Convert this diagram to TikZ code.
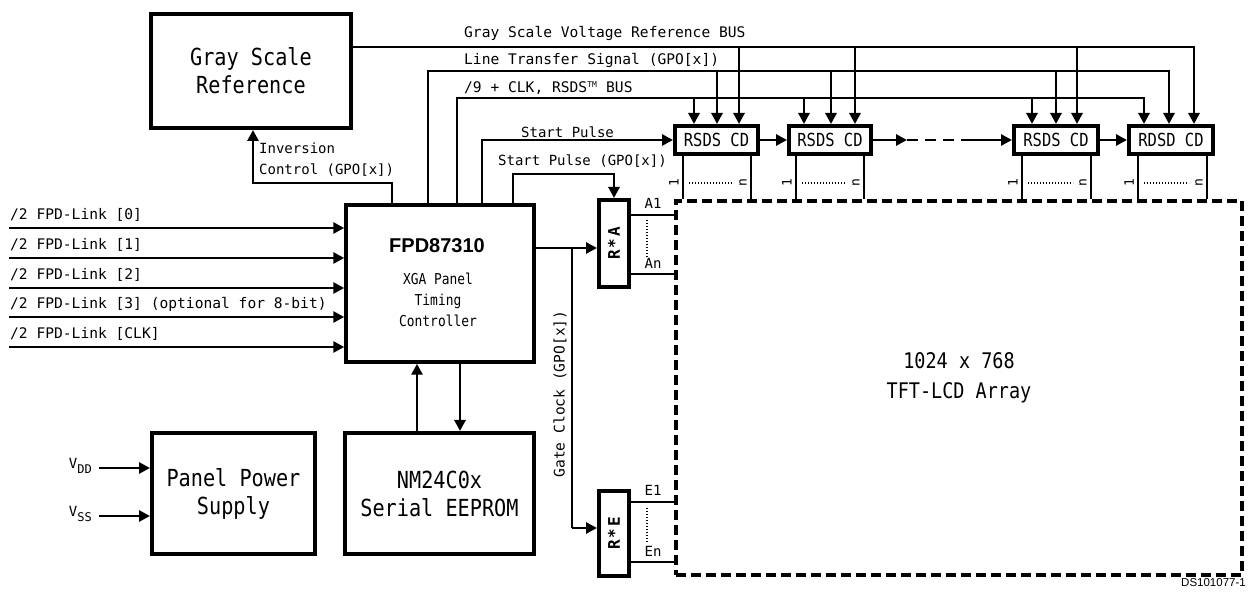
\documentclass[tikz,border=0pt]{standalone}
\usepackage{fontspec}
\setmainfont{DejaVu Sans Mono}
\newfontfamily\tall[FakeStretch=0.86]{DejaVu Sans Mono}
\newfontfamily\hel{Liberation Sans}
\usetikzlibrary{arrows.meta,calc}
\begin{document}
\begin{tikzpicture}[x=1pt,y=-1pt,
  tipA/.style={-{Triangle[length=11pt,width=11pt]}},
  bus/.style={line width=2.9pt},
  arr/.style={bus,tipA},
  thinl/.style={line width=1.4pt},
  dotl/.style={line width=1.2pt,dash pattern=on 1.4pt off 1.6pt},
  blk/.style={draw,line width=4pt,inner sep=0pt,align=center},
  txt/.style={font=\fontsize{14.6}{21}\selectfont,inner sep=0pt},
  lbl/.style={txt,anchor=west},
  lbls/.style={lbl,font=\fontsize{14}{21}\selectfont},
  big/.style={font=\tall\fontsize{23.5}{28}\selectfont},
  small/.style={font=\fontsize{14}{14}\selectfont,inner sep=0pt},
  rsds/.style={blk,minimum height=28pt,font=\tall\fontsize{18}{18}\selectfont}]
\useasboundingbox (0,0) rectangle (1248,593);

% ---- blocks
\node[blk,big,minimum width=200pt,minimum height=114pt] (gsr) at (251,71) {Gray Scale\\Reference};
\node[blk,line width=3.5pt,minimum width=188pt,minimum height=157pt] (fpd) at (440,283.5) {};
\node[font=\hel\bfseries\fontsize{20}{24}\selectfont,inner sep=0pt] (fpdt) at (437,246) {FPD87310};
\node[font=\tall\fontsize{15}{21}\selectfont,align=center,inner sep=0pt] (fpdd) at (438,300) {XGA Panel\\Timing\\Controller};
\node[blk,big,minimum width=163pt,minimum height=121pt] (pps) at (233.5,493.5) {Panel Power\\Supply};
\node[blk,big,minimum width=189pt,minimum height=121pt] (nm) at (439.5,493.5) {NM24C0x\\Serial EEPROM};

\node[rsds,minimum width=83pt] (b1) at (716.5,140) {RSDS CD};
\node[rsds,minimum width=82pt] (b2) at (830,140) {RSDS CD};
\node[rsds,minimum width=84pt] (b3) at (1056,140) {RSDS CD};
\node[rsds,minimum width=84pt] (b4) at (1171,140) {RDSD CD};

\node[blk,minimum width=30pt,minimum height=87pt] (ra) at (614,243.5) {};
\node[rotate=90,font=\bfseries\fontsize{16}{16}\selectfont,inner sep=0pt] (rat) at (ra) {R\hspace{2pt}*\hspace{2pt}A};
\node[blk,minimum width=30pt,minimum height=85pt] (re) at (614,533.5) {};
\node[rotate=90,font=\bfseries\fontsize{16}{16}\selectfont,inner sep=0pt] (ret) at (re) {R\hspace{2pt}*\hspace{2pt}E};

\node[draw,line width=4pt,dash pattern=on 10pt off 5pt,minimum width=566pt,minimum height=374pt,inner sep=0pt] (lcd) at (959,388) {};
\node[font=\tall\fontsize{21.5}{30}\selectfont,align=center,inner sep=0pt] (lcdt) at (959,378) {1024 x 768\\TFT-LCD Array};

% ---- levels and positions
\coordinate (g1) at (739,47);  \coordinate (g2) at (855,47);  \coordinate (g3) at (1077,47); \coordinate (g4) at (1194,47);
\coordinate (l1) at (717,71);  \coordinate (l2) at (831,71);  \coordinate (l3) at (1056,71); \coordinate (l4) at (1169,71);
\coordinate (c1) at (694,98);  \coordinate (c2) at (804,98);  \coordinate (c3) at (1032,98); \coordinate (c4) at (1144,98);
\coordinate (xL) at (428,0); \coordinate (xC) at (457,0); \coordinate (xS) at (482,0);
\coordinate (xP) at (513,0); \coordinate (p1) at (614,174);
\coordinate (xI) at (392,0); \coordinate (i1) at (253,183);

% ---- buses
\draw[arr] (gsr.east |- g1) -| (b4.north -| g4);
\foreach \c/\b in {g1/b1,g2/b2,g3/b3} \draw[arr] (\c) -- (\b.north -| \c);
\draw[arr] (fpd.north -| xL) |- (l4) -- (b4.north -| l4);
\foreach \c/\b in {l1/b1,l2/b2,l3/b3} \draw[arr] (\c) -- (\b.north -| \c);
\draw[arr] (fpd.north -| xC) |- (c4) -- (b4.north -| c4);
\foreach \c/\b in {c1/b1,c2/b2,c3/b3} \draw[arr] (\c) -- (\b.north -| \c);
\draw[arr] (fpd.north -| xS) |- (b1.west);
\draw[arr] (fpd.north -| xP) |- (p1) -- (ra.north);
\draw[arr] (fpd.north -| xI) |- (i1) -- (gsr.south -| i1);

% ---- chain
\coordinate (d1) at (907,140); \coordinate (d2) at (967,140);
\draw[arr] (b1.east) -- (b2.west);
\draw[arr] (b2.east) -- (d1);
\draw[bus,dash pattern=on 11pt off 7pt] (d1) -- (d2);
\draw[arr] (d2) -- (b3.west);
\draw[arr] (b3.east) -- (b4.west);

% ---- bus labels
\node[lbl] (tg) at (464,33) {Gray Scale Voltage Reference BUS};
\node[lbl] (tl) at (464,60) {Line Transfer Signal (GPO[x])};
\node[lbl] (tc) at (464,88) {/9 + CLK, RSDS\textsuperscript{\fontsize{8}{8}\selectfont TM} BUS};
\node[lbls] (ts) at (521,132) {Start Pulse};
\node[lbls] (tp) at (498,161) {Start Pulse (GPO[x])};
\node[lbls,align=left] (ti) at (259,160) {Inversion\\Control (GPO[x])};

% ---- FPD-Link inputs
\foreach \y/\t [count=\i] in {228/{[0]},258/{[1]},288/{[2]},317/{[3] (optional for 8-bit)},347/{[CLK]}} {
  \coordinate (in\i) at (9,\y);
  \draw[arr] (in\i) -- (fpd.west |- in\i);
  \node[lbl] (lk\i) at (10,\y-13) {/2 FPD-Link \t};
}

% ---- R*A / R*E
\coordinate (rA) at (0,248);
\draw[arr] (fpd.east |- rA) -- (ra.west |- rA);
\coordinate (gc) at (572,248); \coordinate (gcE) at (572,528);
\draw[line width=2pt] (gc) -- (gcE);
\draw[arr] (gcE) -- (re.west |- gcE);
\node[txt,rotate=90] (tgc) at (560,394) {Gate Clock (GPO[x])};

\coordinate (a1) at (0,215); \coordinate (an) at (0,274);
\coordinate (e1) at (0,502); \coordinate (en) at (0,562);
\draw[thinl] (ra.east |- a1) -- (lcd.west |- a1);
\draw[thinl] (ra.east |- an) -- (lcd.west |- an);
\draw[thinl] (re.east |- e1) -- (lcd.west |- e1);
\draw[thinl] (re.east |- en) -- (lcd.west |- en);
\node[small] (ta1) at (653,203) {A1};
\node[small] (tan) at (653,263) {An};
\node[small] (te1) at (653,490) {E1};
\node[small] (ten) at (653,551) {En};
\draw[dotl] (647,220) -- (647,257);
\draw[dotl] (647,508) -- (647,543);

% ---- RSDS outputs
\foreach \b/\l/\r in {b1/683/751,b2/796/864,b3/1022/1091,b4/1138/1207} {
  \coordinate (L) at (\l,183); \coordinate (R) at (\r,183);
  \draw[thinl] (\b.south -| L) -- (lcd.north -| L);
  \draw[thinl] (\b.south -| R) -- (lcd.north -| R);
  \node[rotate=90,font=\fontsize{13}{13}\selectfont,inner sep=0pt] at ($(L)+(-9,0)$) {1};
  \node[rotate=90,font=\fontsize{13}{13}\selectfont,inner sep=0pt] at ($(R)+(-8,0)$) {n};
  \draw[dotl] ($(L)+(6,0)$) -- ($(R)+(-18,0)$);
}

% ---- EEPROM link
\coordinate (up) at (417,0); \coordinate (dn) at (460,0);
\draw[arr] (nm.north -| up) -- (fpd.south -| up);
\draw[arr] (fpd.south -| dn) -- (nm.north -| dn);

% ---- power
\coordinate (vd) at (99,468); \coordinate (vs) at (99,516);
\draw[arr] (vd) -- (pps.west |- vd);
\draw[arr] (vs) -- (pps.west |- vs);
\node[small,anchor=east] (tvd) at (92,466) {V\raisebox{-5pt}{\fontsize{12}{12}\selectfont DD}};
\node[small,anchor=east] (tvs) at (92,514) {V\raisebox{-5pt}{\fontsize{12}{12}\selectfont SS}};

\node[font=\hel\fontsize{11.5}{12}\selectfont,inner sep=0pt,anchor=east] (ds) at (1246,583) {DS101077-1};
\end{tikzpicture}
\end{document}
